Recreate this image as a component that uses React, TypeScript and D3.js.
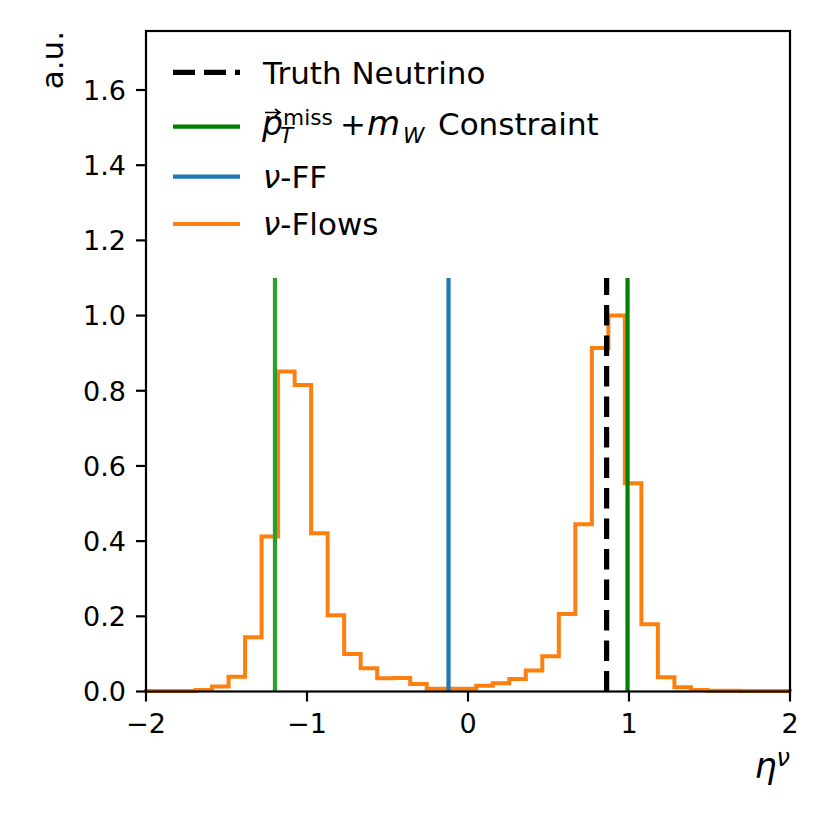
import * as d3 from 'd3';

// histogram of nu-Flows eta, 39 bins between -2 and 2
const binRange: [number, number] = [-2, 2];
const binCount = 39;
const flowsHeights = [
  0.001, 0.001, 0.001, 0.004, 0.013, 0.039, 0.144, 0.412, 0.851, 0.815,
  0.421, 0.203, 0.1, 0.062, 0.035, 0.036, 0.02, 0.007, 0.007, 0.007,
  0.015, 0.022, 0.033, 0.056, 0.094, 0.206, 0.445, 0.914, 1.0, 0.554,
  0.179, 0.038, 0.011, 0.004, 0.002, 0.002, 0.001, 0.001, 0.001,
];

// single-value solutions drawn as vertical lines
const truthEta = 0.861;
const constraintEta = [-1.199, 0.991];
const constraintColors = ['#2ca02c', '#008000'];
const ffEta = -0.121;
const vlineTop = 1.1;

const xTicks = [-2, -1, 0, 1, 2];
const yTicks = [0, 0.2, 0.4, 0.6, 0.8, 1.0, 1.2, 1.4, 1.6];
const yMax = 1.757;

const W = 830;
const H = 830;
const margin = { top: 31, right: 40, bottom: 138.5, left: 146 };
const font = '"DejaVu Sans", sans-serif';

const ORANGE = '#ff7f0e';
const BLUE = '#1f77b4';
const DARKGREEN = '#008000';

export default function App() {
  const x = d3.scaleLinear().domain([-2, 2]).range([margin.left, W - margin.right]);
  const y = d3.scaleLinear().domain([0, yMax]).range([H - margin.bottom, margin.top]);

  const edges = d3.range(binCount + 1).map(i => binRange[0] + (i * (binRange[1] - binRange[0])) / binCount);
  const pts: [number, number][] = [[edges[0], 0]];
  flowsHeights.forEach((h, i) => {
    pts.push([edges[i], h]);
    pts.push([edges[i + 1], h]);
  });
  pts.push([edges[binCount], 0]);
  const stepPath = d3.line<[number, number]>().x(d => x(d[0])).y(d => y(d[1]))(pts) || '';

  const x0 = margin.left;
  const x1 = W - margin.right;
  const yb = H - margin.bottom;
  const yt = margin.top;

  const legendRows = [72.3, 126.7, 176.7, 224];
  const hx0 = 173;
  const hx1 = 240;
  const tx = 263;
  const lfs = 31;

  return (
    <svg width={W} height={H} style={{ position: 'absolute', left: 0, top: 0, background: '#fff' }} fontFamily={font}>
      <rect width={W} height={H} fill="#fff" />

      {/* histogram */}
      <path d={stepPath} fill="none" stroke={ORANGE} strokeWidth={4} strokeLinejoin="miter" />

      {/* vertical lines */}
      {constraintEta.map((v, i) => (
        <line key={'c' + i} x1={x(v)} x2={x(v)} y1={y(0)} y2={y(vlineTop)} stroke={constraintColors[i]} strokeWidth={4.2} />
      ))}
      <line x1={x(ffEta)} x2={x(ffEta)} y1={y(0)} y2={y(vlineTop)} stroke={BLUE} strokeWidth={4.2} />
      <line x1={x(truthEta)} x2={x(truthEta)} y1={y(0)} y2={y(vlineTop)} stroke="#000" strokeWidth={5.2} strokeDasharray="20.5 10" />

      {/* spines */}
      <rect x={x0} y={yt} width={x1 - x0} height={yb - yt} fill="none" stroke="#000" strokeWidth={2.2} />

      {/* x axis */}
      {xTicks.map(t => (
        <g key={'x' + t}>
          <line x1={x(t)} x2={x(t)} y1={yb} y2={yb + 10} stroke="#000" strokeWidth={2.2} />
          <text x={x(t)} y={733} fontSize={27} textAnchor="middle">
            {t < 0 ? '\u2212' + Math.abs(t) : String(t)}
          </text>
        </g>
      ))}

      {/* y axis */}
      {yTicks.map(t => (
        <g key={'y' + t}>
          <line x1={x0 - 10} x2={x0} y1={y(t)} y2={y(t)} stroke="#000" strokeWidth={2.2} />
          <text x={126} y={y(t) + 9.8} fontSize={27} textAnchor="end">
            {t.toFixed(1)}
          </text>
        </g>
      ))}

      {/* axis labels */}
      <text transform={`translate(63,${yt}) rotate(-90)`} fontSize={31} textAnchor="end">a.u.</text>
      <text x={x1} y={778} fontSize={35} textAnchor="end">
        <tspan fontStyle="italic">η</tspan>
        <tspan fontStyle="italic" fontSize={24} dy={-12}>ν</tspan>
      </text>

      {/* legend */}
      <line x1={hx0} x2={hx1} y1={legendRows[0]} y2={legendRows[0]} stroke="#000" strokeWidth={5.2} strokeDasharray="22 9" />
      <text x={tx} y={legendRows[0] + 11.3} fontSize={lfs}>Truth Neutrino</text>

      <line x1={hx0} x2={hx1} y1={legendRows[1]} y2={legendRows[1]} stroke={DARKGREEN} strokeWidth={4.2} />
      <path d="M265,112.5 H279 M275,109 L280,112.5 L275,116" fill="none" stroke="#000" strokeWidth={1.6} />
      <text fontSize={lfs}>
        <tspan x={262} y={135} fontStyle="italic" fontSize={33}>p</tspan>
        <tspan x={280} y={143} fontStyle="italic" fontSize={21.7}>T</tspan>
        <tspan x={283} y={125} fontSize={21.7}>miss</tspan>
        <tspan x={340} y={135}>+</tspan>
        <tspan x={367} y={135} fontStyle="italic" fontSize={34}>m</tspan>
        <tspan x={403} y={143} fontStyle="italic" fontSize={21.7}>W</tspan>
        <tspan x={438} y={135}>Constraint</tspan>
      </text>

      <line x1={hx0} x2={hx1} y1={legendRows[2]} y2={legendRows[2]} stroke={BLUE} strokeWidth={4.2} />
      <text x={tx} y={legendRows[2] + 10.8} fontSize={lfs}>
        <tspan fontStyle="italic">ν</tspan>-FF
      </text>

      <line x1={hx0} x2={hx1} y1={legendRows[3]} y2={legendRows[3]} stroke={ORANGE} strokeWidth={4.2} />
      <text x={tx} y={legendRows[3] + 11.3} fontSize={lfs}>
        <tspan fontStyle="italic">ν</tspan>-Flows
      </text>
    </svg>
  );
}
